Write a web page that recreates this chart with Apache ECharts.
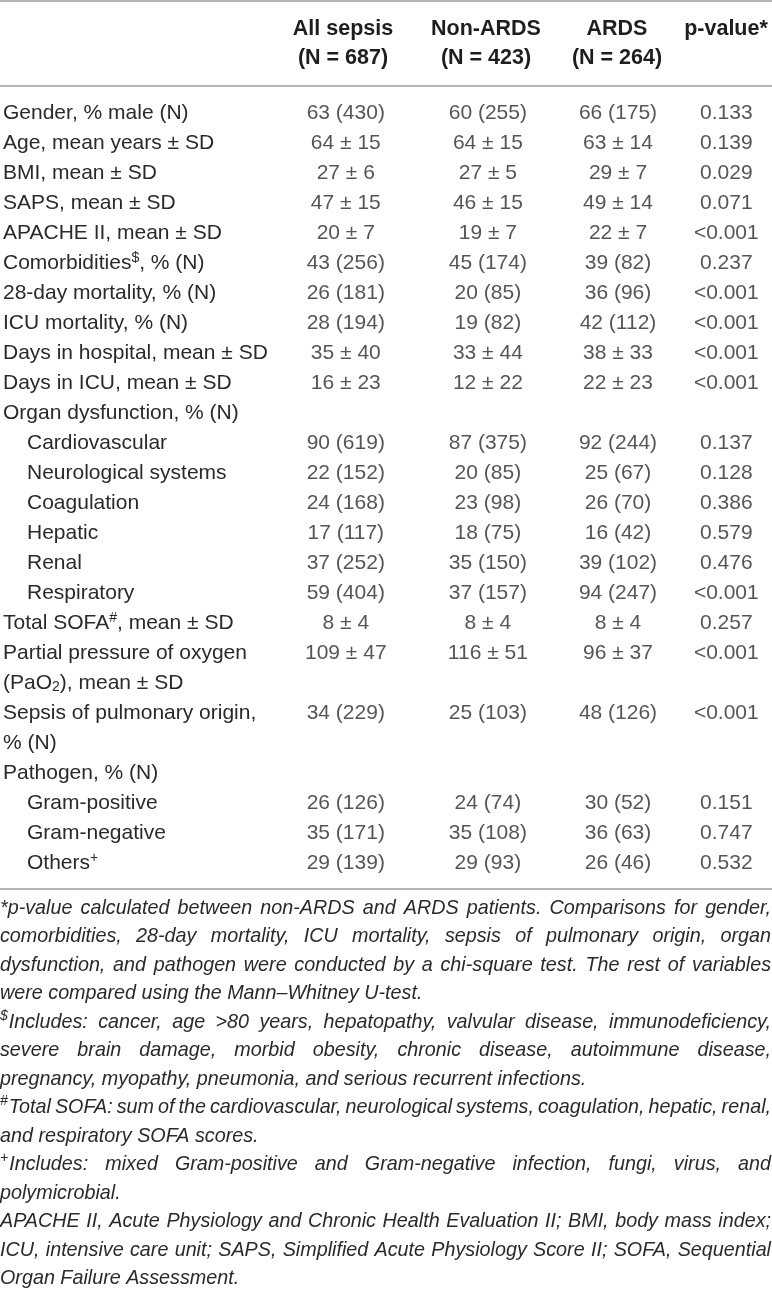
<!DOCTYPE html>
<html>
<head>
<meta charset="utf-8">
<script src="https://cdn.jsdelivr.net/npm/echarts@6/dist/echarts.min.js"></script>
<style>
html, body { margin: 0; padding: 0; background: #fff; }
#main { width: 772px; height: 1291px; }
</style>
</head>
<body>
<div id="main"></div>
<script>
var colHeads = ['All sepsis', 'Non-ARDS', 'ARDS', 'p-value*'];
var colCounts = ['(N = 687)', '(N = 423)', '(N = 264)', ''];

// row labels, '\n' = label wraps onto a second line
var rowLabels = [
	'Gender, % male (N)',
	'Age, mean years ± SD',
	'BMI, mean ± SD',
	'SAPS, mean ± SD',
	'APACHE II, mean ± SD',
	'Comorbidities{sup|$}, % (N)',
	'28-day mortality, % (N)',
	'ICU mortality, % (N)',
	'Days in hospital, mean ± SD',
	'Days in ICU, mean ± SD',
	'Organ dysfunction, % (N)',
	'Cardiovascular',
	'Neurological systems',
	'Coagulation',
	'Hepatic',
	'Renal',
	'Respiratory',
	'Total SOFA{sup|#}, mean ± SD',
	'Partial pressure of oxygen\n(PaO{sub|2}), mean ± SD',
	'Sepsis of pulmonary origin,\n% (N)',
	'Pathogen, % (N)',
	'Gram-positive',
	'Gram-negative',
	'Others{sup|+}'
];
var subRows = ['Cardiovascular', 'Neurological systems', 'Coagulation', 'Hepatic', 'Renal', 'Respiratory',
	'Gram-positive', 'Gram-negative', 'Others{sup|+}'];

var allSepsis = ['63 (430)', '64 ± 15', '27 ± 6', '47 ± 15', '20 ± 7', '43 (256)', '26 (181)', '28 (194)', '35 ± 40', '16 ± 23',
	null, '90 (619)', '22 (152)', '24 (168)', '17 (117)', '37 (252)', '59 (404)', '8 ± 4', '109 ± 47', '34 (229)',
	null, '26 (126)', '35 (171)', '29 (139)'];
var nonArds = ['60 (255)', '64 ± 15', '27 ± 5', '46 ± 15', '19 ± 7', '45 (174)', '20 (85)', '19 (82)', '33 ± 44', '12 ± 22',
	null, '87 (375)', '20 (85)', '23 (98)', '18 (75)', '35 (150)', '37 (157)', '8 ± 4', '116 ± 51', '25 (103)',
	null, '24 (74)', '35 (108)', '29 (93)'];
var ards = ['66 (175)', '63 ± 14', '29 ± 7', '49 ± 14', '22 ± 7', '39 (82)', '36 (96)', '42 (112)', '38 ± 33', '22 ± 23',
	null, '92 (244)', '25 (67)', '26 (70)', '16 (42)', '39 (102)', '94 (247)', '8 ± 4', '96 ± 37', '48 (126)',
	null, '30 (52)', '36 (63)', '26 (46)'];
var pValues = ['0.133', '0.139', '0.029', '0.071', '<0.001', '0.237', '<0.001', '<0.001', '<0.001', '<0.001',
	null, '0.137', '0.128', '0.386', '0.579', '0.476', '<0.001', '0.257', '<0.001', '<0.001',
	null, '0.151', '0.747', '0.532'];

// footnotes, line breaks as printed
var footnotes = [
	{ mark: '', lines: [
		'*p-value calculated between non-ARDS and ARDS patients. Comparisons for gender,',
		'comorbidities, 28-day mortality, ICU mortality, sepsis of pulmonary origin, organ',
		'dysfunction, and pathogen were conducted by a chi-square test. The rest of variables',
		'were compared using the Mann\u2013Whitney U-test.'] },
	{ mark: '$', lines: [
		'Includes: cancer, age >80 years, hepatopathy, valvular disease, immunodeficiency,',
		'severe brain damage, morbid obesity, chronic disease, autoimmune disease,',
		'pregnancy, myopathy, pneumonia, and serious recurrent infections.'] },
	{ mark: '#', lines: [
		'Total SOFA: sum of the cardiovascular, neurological systems, coagulation, hepatic, renal,',
		'and respiratory SOFA scores.'] },
	{ mark: '+', lines: [
		'Includes: mixed Gram-positive and Gram-negative infection, fungi, virus, and',
		'polymicrobial.'] },
	{ mark: '', lines: [
		'APACHE II, Acute Physiology and Chronic Health Evaluation II; BMI, body mass index;',
		'ICU, intensive care unit; SAPS, Simplified Acute Physiology Score II; SOFA, Sequential',
		'Organ Failure Assessment.'] }
];

var W = 772;
var FAMILY = '"Liberation Sans", Arial, sans-serif';
var INK = '#2a2a2a';
var RULE = '#9c9c9c';
var colX = [343, 486, 617, 726];
var ROW_H = 30, TABLE_TOP = 98;

// expand wrapped labels into axis lines
var lines = [], lineOfRow = [];
rowLabels.forEach(function (lab) {
	lineOfRow.push(lines.length);
	var ind = subRows.indexOf(lab) >= 0 ? '{ind| }' : '';
	lab.split('\n').forEach(function (p) { lines.push(ind + p); });
});

var columns = [allSepsis, nonArds, ards, pValues];
var series = columns.map(function (col, c) {
	var data = [];
	col.forEach(function (v, r) {
		if (v !== null) data.push({ value: [colX[c], lineOfRow[r]], text: v });
	});
	return {
		type: 'scatter',
		silent: true,
		symbolSize: 1,
		itemStyle: { color: 'rgba(0,0,0,0)' },
		data: data,
		label: {
			show: true,
			position: 'inside',
			formatter: function (p) { return p.data.text; },
			fontFamily: FAMILY,
			fontSize: 21,
			color: INK
		}
	};
});

var graphic = [];
[1, 86, 889].forEach(function (y) {
	graphic.push({ type: 'line', shape: { x1: 0, y1: y, x2: W, y2: y }, style: { stroke: RULE, lineWidth: 1.5 } });
});
colHeads.forEach(function (h, c) {
	[h, colCounts[c]].forEach(function (t, k) {
		if (!t) return;
		graphic.push({
			type: 'text', x: colX[c], y: 29 + k * 29,
			style: { text: t, font: 'bold 21.5px ' + FAMILY, fill: '#1e1e1e', align: 'center', verticalAlign: 'middle',
				textAlign: 'center', textVerticalAlign: 'middle' }
		});
	});
});

// justified italic footnotes, slightly condensed
var FN_FONT = 'italic 21px ' + FAMILY;
var SUP_FONT = 'italic 14px ' + FAMILY;
var FN_SX = 0.94;
var ctx = document.createElement('canvas').getContext('2d');
function measure(t, f) { ctx.font = f; return ctx.measureText(t).width; }
var k = 0;
footnotes.forEach(function (fn) {
	fn.lines.forEach(function (line, i) {
		var y = 908 + k * 28.5;
		var x = 0;
		if (i === 0 && fn.mark) {
			graphic.push({ type: 'text', x: 0, y: y - 6,
				style: { text: fn.mark, font: SUP_FONT, fill: INK, align: 'left', verticalAlign: 'middle',
					textAlign: 'left', textVerticalAlign: 'middle' } });
			x = measure(fn.mark, SUP_FONT) + 1;
		}
		var words = line.split(' ');
		var widths = words.map(function (t) { return measure(t, FN_FONT); });
		var sum = widths.reduce(function (a, b) { return a + b; }, 0);
		var scale = FN_SX, gap = measure(' ', FN_FONT) * FN_SX;
		if (i < fn.lines.length - 1) {
			gap = (W - 1 - x - sum * scale) / (words.length - 1);
			if (gap < 3.5) {
				gap = 3.5;
				scale = (W - 1 - x - gap * (words.length - 1)) / sum;
			}
		}
		words.forEach(function (t, j) {
			graphic.push({ type: 'text', x: x, y: y, scaleX: scale,
				style: { text: t, font: FN_FONT, fill: INK, align: 'left', verticalAlign: 'middle',
					textAlign: 'left', textVerticalAlign: 'middle' } });
			x += widths[j] * scale + gap;
		});
		k++;
	});
});

var myChart = echarts.init(document.getElementById('main'));
myChart.setOption({
	animation: false,
	grid: { left: 0, right: 0, top: TABLE_TOP, height: lines.length * ROW_H },
	xAxis: { type: 'value', min: 0, max: W, show: false },
	yAxis: {
		type: 'category',
		data: lines,
		inverse: true,
		offset: 2,
		axisLine: { show: false },
		axisTick: { show: false },
		splitLine: { show: false },
		axisLabel: {
			inside: true,
			margin: 0,
			interval: 0,
			align: 'left',
			fontFamily: FAMILY,
			fontSize: 21,
			lineHeight: 23,
			color: INK,
			rich: {
				sup: { fontSize: 14, lineHeight: 14, verticalAlign: 'top', fontFamily: FAMILY, color: INK },
				sub: { fontSize: 14, lineHeight: 14, verticalAlign: 'bottom', fontFamily: FAMILY, color: INK },
				ind: { width: 24, fontSize: 21 }
			}
		}
	},
	series: series,
	graphic: graphic
});
</script>
</body>
</html>
